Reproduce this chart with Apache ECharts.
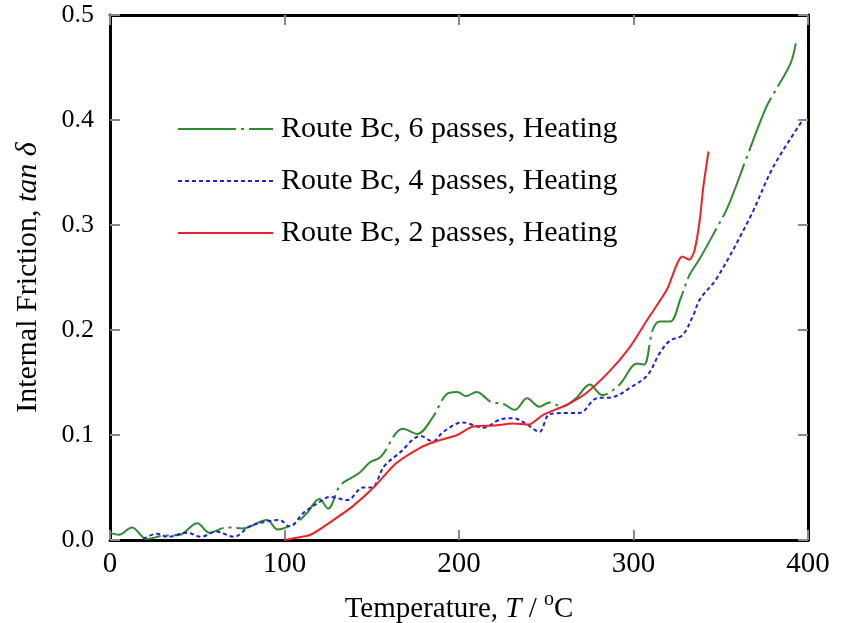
<!DOCTYPE html>
<html>
<head>
<meta charset="utf-8">
<script src="https://cdn.jsdelivr.net/npm/echarts@6/dist/echarts.min.js"></script>
<style>
  html, body { margin: 0; padding: 0; background: #fff; }
  #chart { width: 842px; height: 623px; }
</style>
</head>
<body>
<div id="chart"></div>
<script>
// series names
const seriesNames = [
  'Route Bc, 6 passes, Heating',
  'Route Bc, 4 passes, Heating',
  'Route Bc, 2 passes, Heating'
]

// 6 passes (green, dash-dot)
const pass6T = [0, 5, 12.6, 21, 30, 40, 50, 57, 67, 76, 90, 96, 101, 108, 113, 120, 125, 132, 143, 149, 155, 168, 176, 185, 193, 199, 204, 210, 219, 225, 232, 239, 246, 252, 259, 267, 275, 282, 292, 302, 306, 311, 315, 321, 327, 332, 338, 346, 354, 365, 376, 382, 390, 393]
const pass6V = [0.007, 0.005, 0.012, 0.001, 0.004, 0.005, 0.016, 0.007, 0.012, 0.011, 0.019, 0.010, 0.012, 0.018, 0.026, 0.039, 0.030, 0.052, 0.064, 0.074, 0.079, 0.106, 0.101, 0.117, 0.139, 0.141, 0.137, 0.141, 0.131, 0.130, 0.124, 0.135, 0.127, 0.131, 0.127, 0.135, 0.148, 0.138, 0.148, 0.168, 0.167, 0.200, 0.208, 0.208, 0.230, 0.252, 0.268, 0.292, 0.317, 0.365, 0.412, 0.430, 0.454, 0.473]

// 4 passes (blue, dotted)
const pass4T = [19, 27, 33, 44, 52, 61, 71, 80, 88, 97, 103, 111, 119, 126, 136, 145, 150, 157, 166, 178, 185, 191, 202, 214, 224, 231, 239, 246, 252, 262, 269, 279, 288, 298, 308, 315, 321, 328, 334, 338, 348, 367, 380, 397]
const pass4V = [0.001, 0.006, 0.003, 0.007, 0.003, 0.008, 0.003, 0.013, 0.017, 0.019, 0.013, 0.026, 0.035, 0.041, 0.038, 0.050, 0.050, 0.070, 0.083, 0.099, 0.094, 0.103, 0.112, 0.107, 0.115, 0.116, 0.110, 0.103, 0.120, 0.121, 0.121, 0.135, 0.136, 0.145, 0.157, 0.178, 0.190, 0.195, 0.213, 0.229, 0.250, 0.308, 0.355, 0.400]

// 2 passes (red, solid)
const pass2T = [100, 106, 115, 128, 139, 151, 164, 178, 187, 199, 208, 220, 231, 240, 248, 262, 273, 287, 298, 308, 319, 328, 332, 335, 338, 340, 343]
const pass2V = [0.000, 0.002, 0.005, 0.019, 0.032, 0.050, 0.073, 0.088, 0.094, 0.100, 0.108, 0.109, 0.111, 0.110, 0.119, 0.129, 0.140, 0.162, 0.184, 0.210, 0.238, 0.270, 0.267, 0.276, 0.305, 0.336, 0.370]

const xTicks = [0, 100, 200, 300, 400]
const yTicks = [0.0, 0.1, 0.2, 0.3, 0.4, 0.5]

const pairs = (xs, ys) => xs.map((x, i) => [x, ys[i]])

const FONT = '"Liberation Serif", "Times New Roman", serif'

const chart = echarts.init(document.getElementById('chart'))

const frameAxis = {
  axisLine: { show: true, onZero: false, lineStyle: { color: '#000', width: 3 } },
  axisTick: { show: true, inside: true, length: 10, lineStyle: { color: '#888', width: 2 } },
  splitLine: { show: false }
}

const option = {
  animation: false,
  backgroundColor: '#fff',
  grid: { left: 110, top: 15, right: 34, bottom: 83, containLabel: false, outerBoundsMode: 'none' },
  legend: {
    orient: 'vertical',
    left: 172,
    top: 109,
    itemWidth: 95,
    itemHeight: 14,
    itemGap: 22,
    itemStyle: { opacity: 0 },
    textStyle: { fontFamily: FONT, fontSize: 30, color: '#000', padding: [0, 0, 0, 3] },
    data: seriesNames
  },
  xAxis: [
    Object.assign({}, frameAxis, {
      type: 'value',
      min: 0, max: 400, interval: 100,
      position: 'bottom',
      name: 'Temperature, {i|T} / {sup|o}C',
      nameLocation: 'middle',
      nameGap: 50,
      nameTextStyle: {
        fontFamily: FONT, fontSize: 29, color: '#000',
        rich: {
          i: { fontFamily: FONT, fontSize: 29, fontStyle: 'italic', color: '#000' },
          sup: { fontFamily: FONT, fontSize: 20, color: '#000', verticalAlign: 'top', padding: [0, 0, 18, 0] }
        }
      },
      axisLabel: {
        fontFamily: FONT, fontSize: 29, color: '#000', margin: 10,
        formatter: v => xTicks.includes(v) ? String(v) : ''
      }
    }),
    Object.assign({}, frameAxis, {
      type: 'value',
      min: 0, max: 400, interval: 100,
      position: 'top',
      axisLabel: { show: false }
    })
  ],
  yAxis: [
    Object.assign({}, frameAxis, {
      type: 'value',
      min: 0, max: 0.5, interval: 0.1,
      position: 'left',
      name: 'Internal Friction, {i|tan δ}',
      nameLocation: 'middle',
      nameGap: 67,
      nameTextStyle: {
        fontFamily: FONT, fontSize: 30, color: '#000',
        rich: {
          i: { fontFamily: FONT, fontSize: 30, fontStyle: 'italic', color: '#000' }
        }
      },
      axisLabel: {
        fontFamily: FONT, fontSize: 26, color: '#000', margin: 16,
        formatter: v => yTicks.some(t => Math.abs(t - v) < 1e-9) ? v.toFixed(1) : ''
      }
    }),
    Object.assign({}, frameAxis, {
      type: 'value',
      min: 0, max: 0.5, interval: 0.1,
      position: 'right',
      axisLabel: { show: false }
    })
  ],
  series: [
    {
      name: seriesNames[0],
      type: 'line',
      data: pairs(pass6T, pass6V),
      symbol: 'none',
      smooth: 0.35,
      lineStyle: { color: '#2e8b2e', width: 2, type: [58, 5, 3, 5] },
      itemStyle: { color: '#2e8b2e' }
    },
    {
      name: seriesNames[1],
      type: 'line',
      data: pairs(pass4T, pass4V),
      symbol: 'none',
      smooth: 0.35,
      lineStyle: { color: '#2020e0', width: 2, type: [4, 3] },
      itemStyle: { color: '#2020e0' }
    },
    {
      name: seriesNames[2],
      type: 'line',
      data: pairs(pass2T, pass2V),
      symbol: 'none',
      smooth: 0.25,
      lineStyle: { color: '#ee2222', width: 2 },
      itemStyle: { color: '#ee2222' }
    }
  ]
}

chart.setOption(option)
window.addEventListener('resize', () => chart.resize())
</script>
</body>
</html>
